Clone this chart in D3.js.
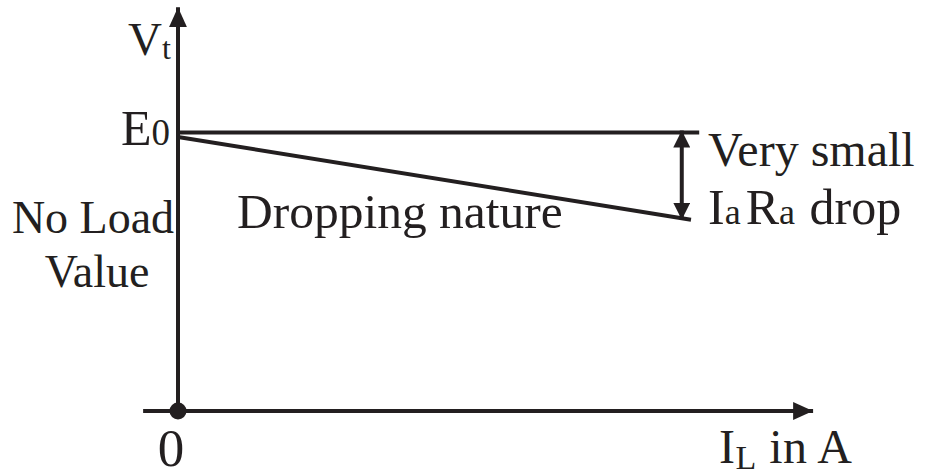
<!DOCTYPE html>
<html>
<head>
<meta charset="utf-8">
<title>Vt vs IL</title>
<script src="https://d3js.org/d3.v7.min.js"></script>
<style>
  body { margin: 0; background: #fff; }
  text { font-family: "Liberation Serif", "Times New Roman", serif; fill: #231f20; }
</style>
</head>
<body>
<script>
const width = 928, height = 473;

// load current (fraction of full load) and voltages (fraction of E0)
const noLoadCurrent = [0, 1.016];
const noLoadVoltage = [1, 1];
const loadCurrent = [0, 1];
const terminalVoltage = [0.984, 0.687];
const dropAt = 0.982;
const dropRange = [1, 0.69];
const axisX = [-0.068, 1.238];
const axisY = [0, 1.45];

const x = d3.scaleLinear().domain([0, 1]).range([178, 691]);
const y = d3.scaleLinear().domain([0, 1]).range([411, 132.5]);

const ink = "#231f20";

const svg = d3.select("body").append("svg")
    .attr("width", width)
    .attr("height", height);

const defs = svg.append("defs");
defs.append("marker")
    .attr("id", "head")
    .attr("viewBox", "0 0 20 18")
    .attr("refX", 20).attr("refY", 9)
    .attr("markerWidth", 20).attr("markerHeight", 18)
    .attr("markerUnits", "userSpaceOnUse")
    .attr("orient", "auto")
  .append("path")
    .attr("d", "M0,0 L20,9 L0,18 Z")
    .attr("fill", ink);
defs.append("marker")
    .attr("id", "small")
    .attr("viewBox", "0 0 17 17")
    .attr("refX", 17).attr("refY", 8.5)
    .attr("markerWidth", 17).attr("markerHeight", 17)
    .attr("markerUnits", "userSpaceOnUse")
    .attr("orient", "auto-start-reverse")
  .append("path")
    .attr("d", "M0,0 L17,8.5 L0,17 Z")
    .attr("fill", ink);

// axes
svg.append("line")
    .attr("x1", x(axisX[0])).attr("y1", y(0))
    .attr("x2", x(axisX[1])).attr("y2", y(0))
    .attr("stroke", ink).attr("stroke-width", 4)
    .attr("marker-end", "url(#head)");
svg.append("line")
    .attr("x1", x(0)).attr("y1", y(0))
    .attr("x2", x(0)).attr("y2", y(axisY[1]))
    .attr("stroke", ink).attr("stroke-width", 4)
    .attr("marker-end", "url(#head)");
svg.append("circle")
    .attr("cx", x(0)).attr("cy", y(0)).attr("r", 8.5)
    .attr("fill", ink);

// lines
const line = d3.line().x(d => x(d[0])).y(d => y(d[1]));
svg.append("path")
    .attr("d", line(d3.zip(noLoadCurrent, noLoadVoltage)))
    .attr("fill", "none").attr("stroke", ink).attr("stroke-width", 4);
svg.append("path")
    .attr("d", line(d3.zip(loadCurrent, terminalVoltage)))
    .attr("fill", "none").attr("stroke", ink).attr("stroke-width", 4);

// IaRa drop arrow
svg.append("line")
    .attr("x1", x(dropAt)).attr("y1", y(dropRange[0]) - 2)
    .attr("x2", x(dropAt)).attr("y2", y(dropRange[1]) + 1)
    .attr("stroke", ink).attr("stroke-width", 4)
    .attr("marker-start", "url(#small)")
    .attr("marker-end", "url(#small)");

// labels
function label(px, py, size, parts, opts) {
    opts = opts || {};
    const t = svg.append("text")
        .attr("x", px).attr("y", py)
        .attr("font-size", size)
        .attr("text-anchor", opts.anchor || "start");
    if (opts.len) t.attr("textLength", opts.len).attr("lengthAdjust", "spacing");
    parts.forEach(p => {
        const s = t.append("tspan").text(p.t);
        if (p.size) s.attr("font-size", p.size);
        if (p.dy) s.attr("dy", p.dy);
        if (p.dx) s.attr("dx", p.dx);
    });
    return t;
}

label(128, 55, 47, [{t: "V"}, {t: "t", size: 32, dy: 4}]);
label(121, 145, 50, [{t: "E"}, {t: "0", size: 37}]);
label(93, 233, 46, [{t: "No Load"}], {anchor: "middle"});
label(97, 287, 46, [{t: "Value"}], {anchor: "middle"});
label(237, 228, 49.5, [{t: "Dropping nature"}]);
label(708, 166, 48, [{t: "Very small"}]);
label(708, 224, 50, [{t: "I"}, {t: "a", size: 36}, {t: "R", dx: 5}, {t: "a", size: 36}, {t: " drop", dx: 2}]);
label(171, 466, 53, [{t: "0"}], {anchor: "middle"});
label(719, 463, 48, [{t: "I"}, {t: "L", size: 34, dy: 6}, {t: " in A", dy: -6}], {len: 133});
</script>
</body>
</html>
